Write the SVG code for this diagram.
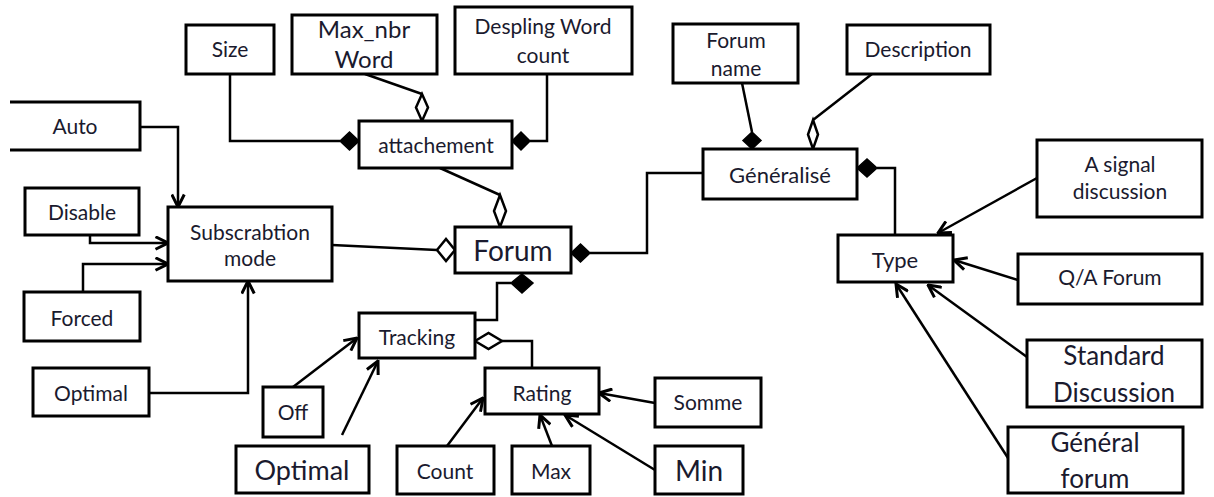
<svg xmlns="http://www.w3.org/2000/svg" width="1214" height="497" viewBox="0 0 1214 497">
<style>
.box{fill:#fff;stroke:#000;stroke-width:3}
.ln{fill:none;stroke:#000;stroke-width:2.5}
.arr{fill:none;stroke:#000;stroke-width:2.5;marker-end:url(#ah)}
.fd{fill:#000;stroke:#000;stroke-width:1.5}
.hd{fill:#fff;stroke:#000;stroke-width:2.5}
text{font-family:Lato,"Liberation Sans",sans-serif;font-size:21px;fill:#1a1a2e;text-anchor:middle}
.big{font-size:26px}
</style>
<defs>
<marker id="ah" viewBox="0 0 12 12" refX="11" refY="6" markerWidth="15" markerHeight="15" markerUnits="userSpaceOnUse" orient="auto">
<path d="M1,1 L11,6 L1,11" fill="none" stroke="#000" stroke-width="2.4"/>
</marker>
</defs>
<rect width="1214" height="497" fill="#fff"/>
<g id="connectors">
<path class="ln" d="M230,74 V141 H340"/>
<polygon class="fd" points="340,141 349.5,132 359,141 349.5,150"/>
<path class="ln" d="M547,74 V141 H530"/>
<polygon class="fd" points="512,141 521,132 530,141 521,150"/>
<path class="ln" d="M365,74 L422,94"/>
<polygon class="hd" points="422,94 428,107.5 422,121 416,107.5"/>
<path class="ln" d="M440,168 L500,195"/>
<polygon class="hd" points="500,195 506,211 500,227 494,211"/>
<path class="ln" d="M332,245 L437,250"/>
<polygon class="hd" points="437,250 446,239 455,250 446,261"/>
<polygon class="fd" points="571,253 580.5,244 590,253 580.5,262"/>
<path class="ln" d="M590,253 H647 V173 H703"/>
<polygon class="fd" points="522,274 533,283 522,293 511,283"/>
<path class="ln" d="M511,283 H497 V320 H475"/>
<polygon class="hd" points="475,341 488.5,333 502,341 488.5,349"/>
<path class="ln" d="M502,341 H532 V368"/>
<path class="arr" d="M293,387 L357,338"/>
<path class="arr" d="M342,435 L378,361"/>
<path class="arr" d="M140,127 H178 V207"/>
<path class="arr" d="M90,235 V243 H168"/>
<path class="arr" d="M83,292 V264 H168"/>
<path class="arr" d="M149,393 H248 V281"/>
<path class="arr" d="M655,403 L599,393"/>
<path class="arr" d="M447,446 L483,398"/>
<path class="arr" d="M552,446 L540,415"/>
<path class="arr" d="M655,470 L565,415"/>
<path class="ln" d="M742,83 L752,132"/>
<polygon class="fd" points="752,132 761,140.5 752,149 743,140.5"/>
<path class="ln" d="M872,74 L813,120"/>
<polygon class="hd" points="813,120 818,134.5 813,149 808,134.5"/>
<polygon class="fd" points="857,168 867,159 877,168 867,177"/>
<path class="ln" d="M877,168 H895 V235"/>
<path class="arr" d="M1037,178 L938,233"/>
<path class="arr" d="M1018,280 L954,260"/>
<path class="arr" d="M1027,357 L928,285"/>
<path class="arr" d="M1008,458 L896,284"/>
</g>
<g id="size"><rect class="box" x="186" y="25" width="88" height="49"/><text x="230" y="57">Size</text></g>
<g id="maxnbr"><rect class="box" x="292" y="15" width="145" height="59"/><text x="364" y="38" style="font-size:24px">Max_nbr</text><text x="364" y="68" style="font-size:24px">Word</text></g>
<g id="despling"><rect class="box" x="455" y="7" width="177" height="67"/><text x="543" y="34">Despling  Word</text><text x="543" y="63">count</text></g>
<g id="forumname"><rect class="box" x="673" y="24" width="125" height="59"/><text x="736" y="48">Forum</text><text x="736" y="76">name</text></g>
<g id="description"><rect class="box" x="847" y="25" width="143" height="49"/><text x="918" y="57">Description</text></g>
<g id="auto"><path class="box" d="M10,102 H140 V150 H10"/><text x="75" y="134">Auto</text></g>
<g id="disable"><rect class="box" x="25" y="188" width="114" height="47"/><text x="82" y="220">Disable</text></g>
<g id="subscrabtion"><rect class="box" x="168" y="207" width="164" height="74"/><text x="250" y="240">Subscrabtion</text><text x="250" y="266">mode</text></g>
<g id="forced"><rect class="box" x="24" y="292" width="116" height="49"/><text x="82" y="326">Forced</text></g>
<g id="optimal1"><rect class="box" x="33" y="368" width="116" height="48"/><text x="91" y="401">Optimal</text></g>
<g id="attachement"><rect class="box" x="359" y="121" width="153" height="47"/><text x="436" y="153">attachement</text></g>
<g id="forum"><rect class="box" x="455" y="227" width="116" height="46"/><text x="513" y="261" style="font-size:28px">Forum</text></g>
<g id="generalise"><rect class="box" x="703" y="149" width="154" height="50"/><text x="780" y="183" style="font-size:22px">Généralisé</text></g>
<g id="asignal"><rect class="box" x="1037" y="140" width="165" height="77"/><text x="1120" y="172">A signal</text><text x="1120" y="199">discussion</text></g>
<g id="type"><rect class="box" x="838" y="235" width="115" height="47"/><text x="895" y="268" style="font-size:22px">Type</text></g>
<g id="qaforum"><rect class="box" x="1018" y="254" width="184" height="50"/><text x="1110" y="285">Q/A Forum</text></g>
<g id="standard"><rect class="box" x="1027" y="340" width="175" height="67"/><text x="1114" y="365" class="big">Standard</text><text x="1114" y="402" class="big">Discussion</text></g>
<g id="generalforum"><rect class="box" x="1008" y="427" width="175" height="66"/><text x="1095" y="452" class="big">Général</text><text x="1095" y="488" class="big">forum</text></g>
<g id="tracking"><rect class="box" x="359" y="313" width="116" height="45"/><text x="417" y="345">Tracking</text></g>
<g id="off"><rect class="box" x="263" y="387" width="60" height="50"/><text x="293" y="420">Off</text></g>
<g id="optimal2"><rect class="box" x="236" y="446" width="133" height="47"/><text x="302" y="480" style="font-size:27px">Optimal</text></g>
<g id="rating"><rect class="box" x="485" y="368" width="114" height="46"/><text x="542" y="401">Rating</text></g>
<g id="somme"><rect class="box" x="655" y="378" width="106" height="49"/><text x="708" y="410">Somme</text></g>
<g id="count"><rect class="box" x="397" y="446" width="97" height="48"/><text x="445" y="479">Count</text></g>
<g id="max"><rect class="box" x="512" y="446" width="78" height="48"/><text x="551" y="479">Max</text></g>
<g id="min"><rect class="box" x="655" y="446" width="88" height="48"/><text x="699" y="481" style="font-size:28px">Min</text></g>
</svg>
